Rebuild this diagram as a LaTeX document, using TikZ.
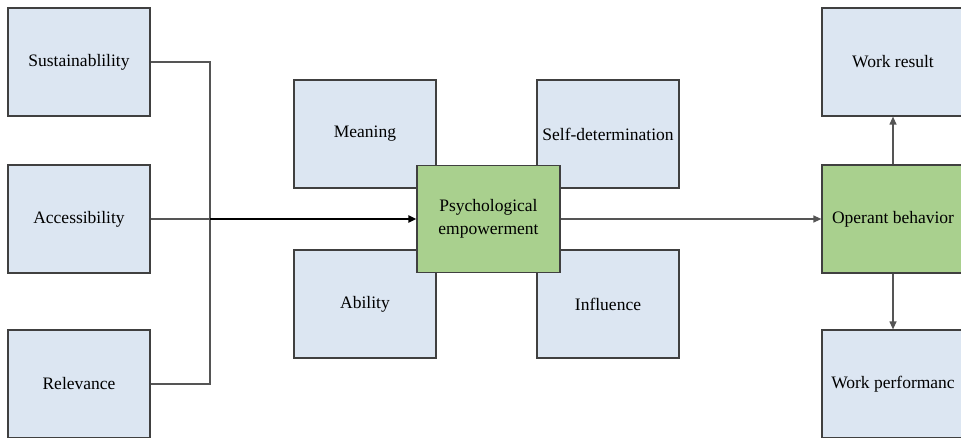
\documentclass[tikz,border=0pt]{standalone}
\usepackage{fontspec}
\setmainfont{Liberation Serif}
\usetikzlibrary{arrows.meta}
\definecolor{boxblue}{HTML}{DCE6F2}
\definecolor{boxgreen}{HTML}{A9D08E}
\definecolor{edgegray}{HTML}{404040}
\definecolor{linegray}{HTML}{555555}
\begin{document}
\begin{tikzpicture}[x=1pt,y=-1pt,
  bluebox/.style={draw=edgegray,line width=1.2pt,fill=boxblue,minimum width=142pt,minimum height=108pt,inner sep=0pt,align=center,font=\fontsize{17.5}{23}\selectfont},
  greenbox/.style={bluebox,fill=boxgreen},
  conn/.style={draw=linegray,line width=1.2pt},
  tip/.style={-{Triangle[length=8pt,width=7pt]}}]
\useasboundingbox (0,0) rectangle (961,438);
\clip (0,0) rectangle (961,438);
% left inputs
\node[bluebox] (sus) at (79,62) {Sustainablility};
\node[bluebox] (acc) at (79,219) {Accessibility};
\node[bluebox] (rel) at (79,384) {Relevance};
% dimensions
\node[bluebox] (mea) at (365,134) {Meaning};
\node[bluebox] (sel) at (608,134) {Self-determination};
\node[bluebox] (abi) at (365,304) {Ability};
\node[bluebox] (inf) at (608,304) {Influence};
\node[greenbox,minimum width=143pt,minimum height=107pt] (psy) at (488.5,219) {Psychological\\empowerment};
% right
\node[bluebox] (wr) at (893,62) {Work result};
\node[greenbox] (ob) at (893,219) {Operant behavior};
\node[bluebox] (wp) at (893,384) {Work performanc};
\coordinate (j) at (210,219);
\draw[conn] (sus.east) -| (j);
\draw[conn] (rel.east) -| (j);
\draw[conn] (acc.east) -- (j);
\draw[line width=2pt,black,tip] (j) -- (psy.west);
\draw[conn,tip] (psy.east) -- (ob.west);
\draw[conn,tip] (ob.north) -- (wr.south);
\draw[conn,tip] (ob.south) -- (wp.north);
\end{tikzpicture}
\end{document}
